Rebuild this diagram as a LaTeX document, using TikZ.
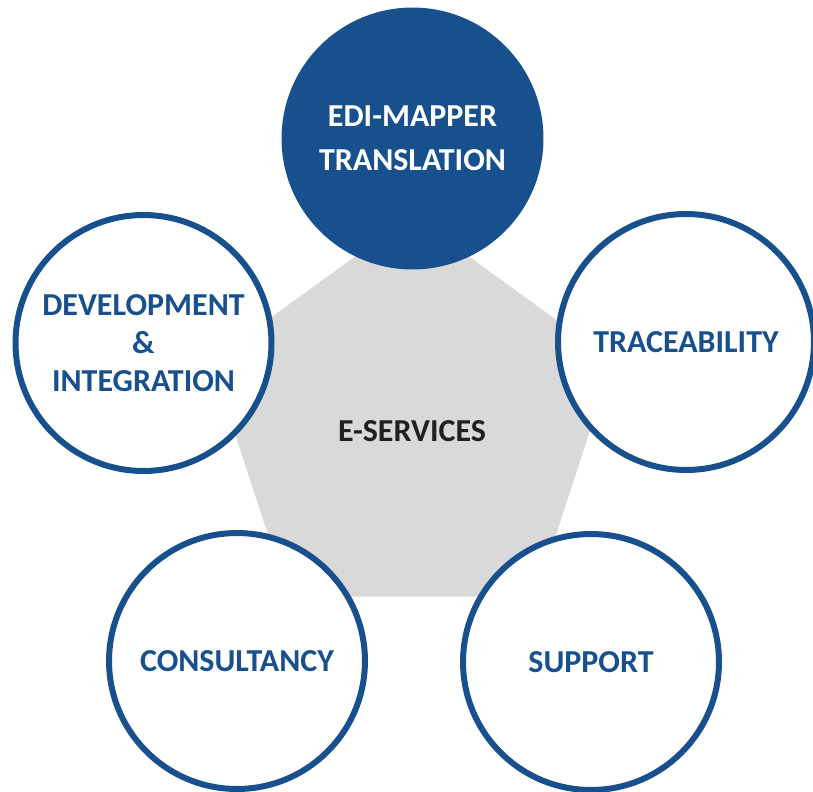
\documentclass[tikz,border=0pt]{standalone}
\usepackage{fontspec}
\setmainfont{Carlito}
\usetikzlibrary{shapes.geometric}
\definecolor{ServBlue}{RGB}{23,80,140}
\definecolor{ServGray}{RGB}{217,217,217}
\definecolor{ServDark}{RGB}{35,31,32}
\tikzstyle{CoreNode}=[regular polygon, regular polygon sides=5, fill=ServGray, inner sep=0pt, minimum size=8.44cm, text height=0.6cm, text depth=0pt, text=ServDark, font=\bfseries\fontsize{18.2}{22}\selectfont]
\tikzstyle{ServiceNode}=[circle, draw=ServBlue, line width=0.12cm, fill=white, inner sep=0pt, minimum size=5.12cm, align=center, text=ServBlue, font=\bfseries\fontsize{18.2}{21.6}\selectfont]
\tikzstyle{MainServiceNode}=[ServiceNode, fill=ServBlue, text=white, font=\bfseries\fontsize{18.2}{25}\selectfont]

\begin{document}
\begin{tikzpicture}[x=0.02cm, y=-0.02cm]
\useasboundingbox (0,0) rectangle (813,791);
\node[CoreNode](ESERV) at (412,426) {E-SERVICES};
\node[MainServiceNode](MAPPER) at (412.5,138.5) {EDI-MAPPER\\TRANSLATION};
\node[ServiceNode](DEVINT) at (143.5,343) {DEVELOPMENT\\\&\\INTEGRATION};
\node[ServiceNode](TRACE) at (686,342) {TRACEABILITY};
\node[ServiceNode](CONSULT) at (237,661) {CONSULTANCY};
\node[ServiceNode](SUPPORT) at (591,662) {SUPPORT};
\end{tikzpicture}
\end{document}
